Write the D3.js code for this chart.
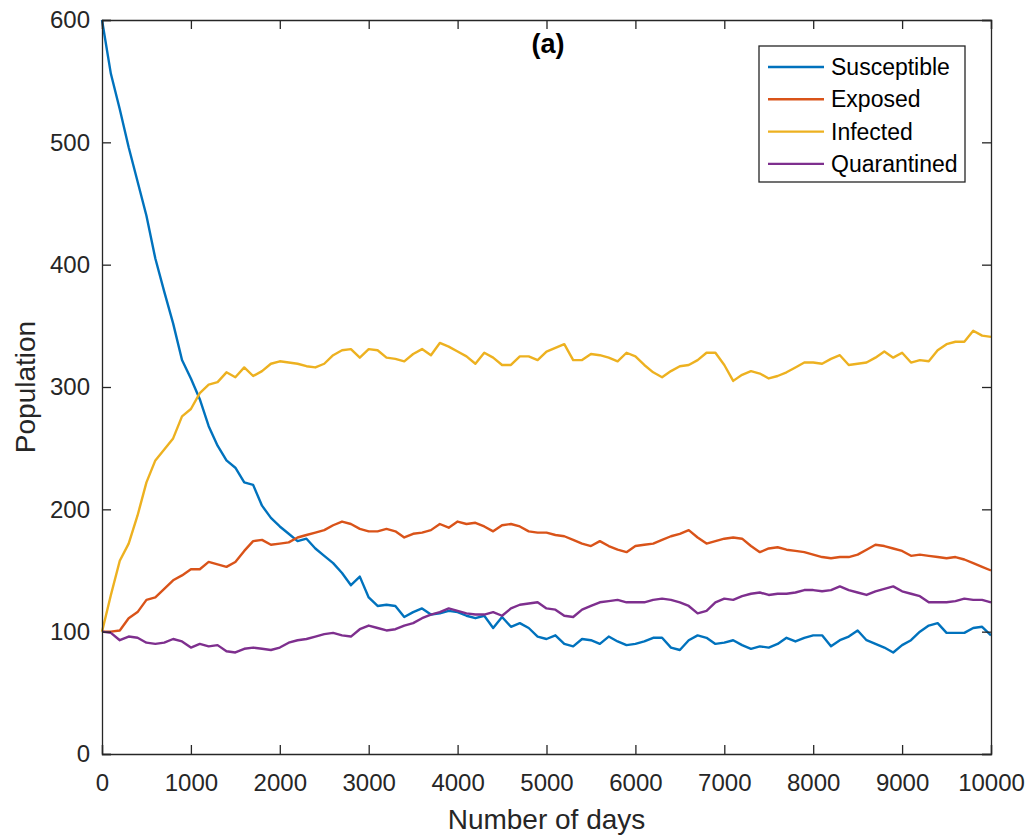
<!DOCTYPE html>
<html>
<head>
<meta charset="utf-8">
<script src="https://cdn.jsdelivr.net/npm/d3@7"></script>
<style>
  body { margin: 0; background: #fff; }
  svg { font-family: "Liberation Sans", Arial, sans-serif; }
</style>
</head>
<body>
<div id="chart"></div>
<script>
// days sampled every 100
const days = d3.range(0, 10001, 100);

const seriesNames = ["Susceptible", "Exposed", "Infected", "Quarantined"];
const seriesColors = ["#0072BD", "#D95319", "#EDB120", "#7E2F8E"];

const susceptible = [600,556,527,496,468,440,405,378,352,322,307,290,268,252,240,234,222,220,203,193,
  186,180,174,176,168,162,156,148,138,145,128,121,122,121,112,116,119,114,115,117,
  116,113,111,113,103,112,104,107,103,96,94,97,90,88,94,93,90,96,92,89,
  90,92,95,95,87,85,93,97,95,90,91,93,89,86,88,87,90,95,92,95,
  97,97,88,93,96,101,93,90,87,83,89,93,100,105,107,99,99,99,103,104,97];

const exposed = [100,100,101,111,116,126,128,135,142,146,151,151,157,155,153,157,166,174,175,171,
  172,173,177,179,181,183,187,190,188,184,182,182,184,182,177,180,181,183,188,185,
  190,188,189,186,182,187,188,186,182,181,181,179,178,175,172,170,174,170,167,165,
  170,171,172,175,178,180,183,177,172,174,176,177,176,170,165,168,169,167,166,165,
  163,161,160,161,161,163,167,171,170,168,166,162,163,162,161,160,161,159,156,153,150];

const infected = [100,130,158,172,195,222,240,249,258,276,282,295,302,304,312,308,316,309,313,319,
  321,320,319,317,316,319,326,330,331,324,331,330,324,323,321,327,331,326,336,333,
  329,325,319,328,324,318,318,325,325,322,329,332,335,322,322,327,326,324,321,328,
  325,318,312,308,313,317,318,322,328,328,318,305,310,313,311,307,309,312,316,320,
  320,319,323,326,318,319,320,324,329,324,328,320,322,321,330,335,337,337,346,342,341];

const quarantined = [100,99,93,96,95,91,90,91,94,92,87,90,88,89,84,83,86,87,86,85,
  87,91,93,94,96,98,99,97,96,102,105,103,101,102,105,107,111,114,116,119,
  117,115,114,114,116,113,119,122,123,124,119,118,113,112,118,121,124,125,126,124,
  124,124,126,127,126,124,121,115,117,124,127,126,129,131,132,130,131,131,132,134,
  134,133,134,137,134,132,130,133,135,137,133,131,129,124,124,124,125,127,126,126,124];

const xTicks = d3.range(0, 10001, 1000);
const yTicks = d3.range(0, 601, 100);

const width = 1031, height = 837;
const margin = { top: 20, right: 40, bottom: 83, left: 101 };
const axisColor = "#262626";

const svg = d3.select("#chart").append("svg")
  .attr("width", width)
  .attr("height", height);

const x = d3.scaleLinear().domain([0, 10000]).range([margin.left + 1, width - margin.right]);
const y = d3.scaleLinear().domain([0, 600]).range([height - margin.bottom, margin.top]);

const allSeries = [susceptible, exposed, infected, quarantined];

const line = d3.line()
  .x((d, i) => x(days[i]))
  .y(d => y(d));

const plot = svg.append("g");
allSeries.forEach((s, k) => {
  plot.append("path")
    .datum(s)
    .attr("fill", "none")
    .attr("stroke", seriesColors[k])
    .attr("stroke-width", 2.4)
    .attr("stroke-linejoin", "round")
    .attr("d", line);
});

// axes, ticks point inward like MATLAB
const tickLen = 9;
const xB = svg.append("g")
  .attr("transform", `translate(0,${y(0)})`)
  .call(d3.axisBottom(x).tickValues(xTicks).tickSize(-tickLen).tickPadding(20).tickFormat(d3.format("d")));
const xT = svg.append("g")
  .attr("transform", `translate(0,${y(600)})`)
  .call(d3.axisTop(x).tickValues(xTicks).tickSize(-tickLen).tickFormat(""));
const yL = svg.append("g")
  .attr("transform", `translate(${x(0)},0)`)
  .call(d3.axisLeft(y).tickValues(yTicks).tickSize(-tickLen).tickPadding(12).tickFormat(d3.format("d")));
const yR = svg.append("g")
  .attr("transform", `translate(${x(10000)},0)`)
  .call(d3.axisRight(y).tickValues(yTicks).tickSize(-tickLen).tickFormat(""));

[xB, xT, yL, yR].forEach(g => {
  g.selectAll(".domain").attr("stroke", axisColor).attr("stroke-width", 1.3);
  g.selectAll(".tick line").attr("stroke", axisColor).attr("stroke-width", 1.3);
  g.selectAll(".tick text").attr("fill", axisColor).style("font-size", "24px");
});

// axis labels
svg.append("text")
  .attr("x", (x(0) + x(10000)) / 2)
  .attr("y", 829)
  .attr("text-anchor", "middle")
  .attr("fill", axisColor)
  .style("font-size", "28px")
  .text("Number of days");

svg.append("text")
  .attr("transform", `translate(35,${(y(0) + y(600)) / 2}) rotate(-90)`)
  .attr("text-anchor", "middle")
  .attr("fill", axisColor)
  .style("font-size", "28px")
  .text("Population");

// panel title
svg.append("text")
  .attr("x", 548)
  .attr("y", 53)
  .attr("text-anchor", "middle")
  .attr("fill", "#000")
  .style("font-size", "27px")
  .style("font-weight", "bold")
  .text("(a)");

// legend
const lg = svg.append("g").attr("transform", "translate(759,46)");
lg.append("rect")
  .attr("width", 206).attr("height", 136)
  .attr("fill", "#fff")
  .attr("stroke", axisColor).attr("stroke-width", 1.3);
seriesNames.forEach((name, k) => {
  const cy = 21 + k * 32.3;
  lg.append("line")
    .attr("x1", 9).attr("x2", 65)
    .attr("y1", cy).attr("y2", cy)
    .attr("stroke", seriesColors[k]).attr("stroke-width", 2.4);
  lg.append("text")
    .attr("x", 72).attr("y", cy)
    .attr("dy", "0.35em")
    .attr("fill", "#000")
    .style("font-size", "23px")
    .text(name);
});
</script>
</body>
</html>
